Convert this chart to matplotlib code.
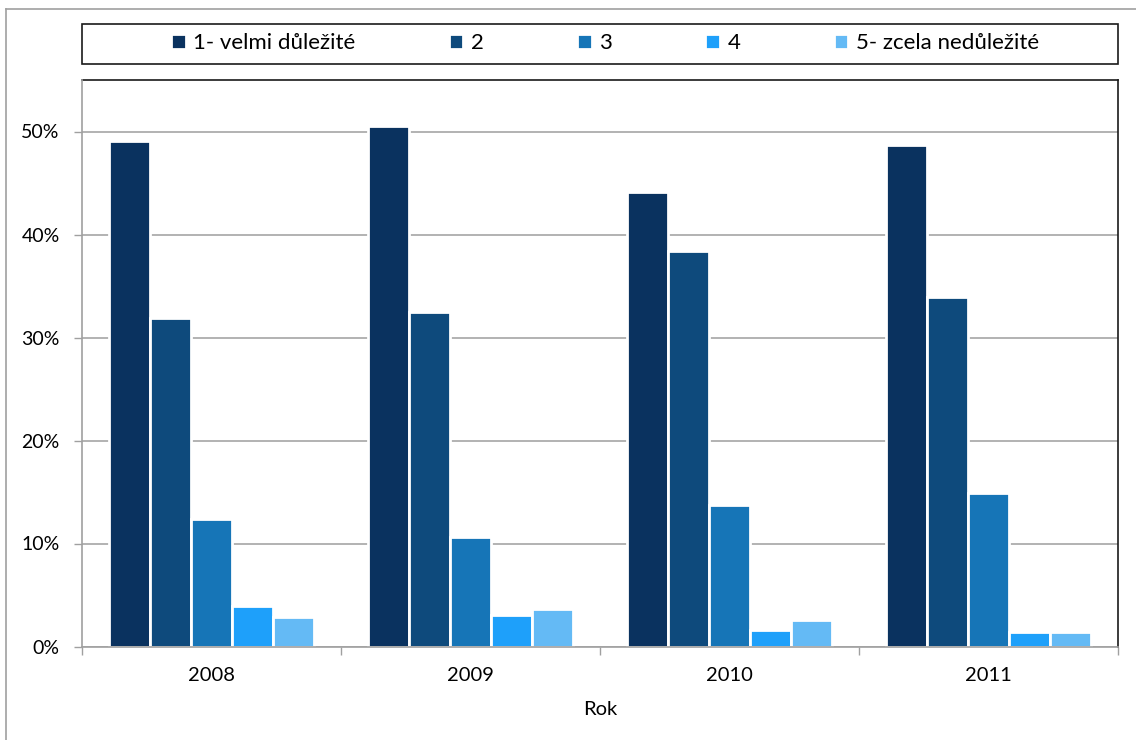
import numpy as np
import matplotlib.pyplot as plt
from matplotlib.patches import Rectangle
from matplotlib.lines import Line2D
from matplotlib.ticker import PercentFormatter

plt.rcParams['font.family'] = ['Lato', 'DejaVu Sans']

years = ["2008", "2009", "2010", "2011"]
series_names = ["1- velmi důležité", "2", "3", "4", "5- zcela nedůležité"]
values = [
    [49.1, 50.5, 44.1, 48.7],   # 1- velmi důležité
    [31.9, 32.5, 38.4, 33.9],   # 2
    [12.4, 10.6, 13.7, 14.9],   # 3
    [3.9, 3.1, 1.6, 1.4],       # 4
    [2.9, 3.6, 2.6, 1.4],       # 5- zcela nedůležité
]
colors = ["#0a325f", "#0e4a7c", "#1675b7", "#1ea0fa", "#64baf5"]

W, H = 1136, 740
fig = plt.figure(figsize=(W / 100, H / 100), dpi=100)
ax = fig.add_axes([82 / W, 1 - 646.5 / H, (1118 - 82) / W, (646.5 - 80) / H])

x = np.arange(len(years))
slot = 0.158
for i, (name, vals) in enumerate(zip(series_names, values)):
    ax.bar(x + (i - 2) * slot, vals, width=slot, color=colors[i],
           edgecolor="white", linewidth=2, label=name, zorder=3)

ax.set_xlim(-0.5, len(years) - 0.5)
ax.set_ylim(0, 55)
ax.set_yticks(np.arange(0, 51, 10))
ax.yaxis.set_major_formatter(PercentFormatter(decimals=0))
ax.grid(axis="y", color="#a6a6a6", linewidth=1.2, zorder=0)

ax.set_xticks(x)
ax.set_xticklabels(years)
ax.set_xticks(np.arange(-0.5, len(years)), minor=True)
ax.tick_params(axis="x", which="major", length=0, pad=15, labelsize=14.5)
ax.tick_params(axis="x", which="minor", length=6, width=1, color="#a0a0a0")
ax.tick_params(axis="y", length=6, width=1, color="#a0a0a0", pad=10, labelsize=14)
ax.set_xlabel("Rok", fontsize=14.5, labelpad=12)

for s in ["left", "bottom"]:
    ax.spines[s].set_color("#a0a0a0")
    ax.spines[s].set_linewidth(1.2)
    ax.spines[s].set_zorder(4)
for s in ["top", "right"]:
    ax.spines[s].set_color("#1a1a1a")
    ax.spines[s].set_linewidth(1.2)

# legend box across the top
fig.patches.append(Rectangle((82 / W, 1 - 64 / H), (1118 - 82) / W, 40 / H,
                             transform=fig.transFigure, fill=False,
                             edgecolor="#1a1a1a", linewidth=1.2))
ax.legend(loc="center", bbox_to_anchor=(605 / W, 1 - 43 / H),
          bbox_transform=fig.transFigure, ncol=5, frameon=False,
          fontsize=16, handlelength=0.65, handleheight=0.65,
          handletextpad=0.34, columnspacing=4.2)

# outer frame lines
fig.lines.append(Line2D([6 / W, 1], [1 - 9 / H, 1 - 9 / H], transform=fig.transFigure,
                        color="#a0a0a0", linewidth=1.2))
fig.lines.append(Line2D([6 / W, 6 / W], [0, 1 - 9 / H], transform=fig.transFigure,
                        color="#a0a0a0", linewidth=1.2))

fig.savefig("out.png", dpi=100)
